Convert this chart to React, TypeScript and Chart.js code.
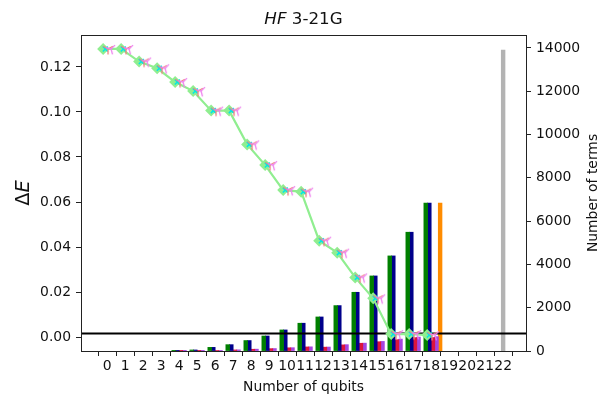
import React, { useEffect, useRef } from "react";
import { Chart, registerables } from "chart.js";

Chart.register(...registerables);

// ---- data ----
const qubits = [0, 1, 2, 3, 4, 5, 6, 7, 8, 9, 10, 11, 12, 13, 14, 15, 16, 17, 18];
const deltaE = [0.128, 0.128, 0.1224, 0.1194, 0.1133, 0.1093, 0.1006, 0.1006, 0.0856, 0.0764, 0.0653, 0.0646, 0.0428, 0.0375, 0.0265, 0.0172, 0.0013, 0.0013, 0.0009];
const termsGreen = [0, 0, 0, 0, 10, 45, 165, 290, 480, 690, 970, 1280, 1570, 2095, 2710, 3465, 4390, 5485, 6830];
const termsNavy = [0, 0, 0, 0, 10, 45, 165, 290, 480, 690, 970, 1280, 1570, 2095, 2710, 3465, 4390, 5485, 6830];
const termsRed = [0, 0, 0, 0, 3, 10, 23, 46, 78, 106, 145, 185, 175, 280, 355, 425, 520, 615, 620];
const termsPurple = [0, 0, 0, 0, 3, 11, 25, 50, 82, 110, 150, 190, 180, 290, 360, 440, 545, 640, 660];
const orangeQubit = [18.5];
const orangeTerms = [6830];
const grayQubit = [22];
const grayTerms = [13900];
const chemicalAccuracy = 0.0016;
const xTickValues = [0, 1, 2, 3, 4, 5, 6, 7, 8, 9, 10, 11, 12, 13, 14, 15, 16, 17, 18, 19, 20, 21, 22];
const leftTickValues = [0, 0.02, 0.04, 0.06, 0.08, 0.1, 0.12];
const rightTickValues = [0, 2000, 4000, 6000, 8000, 10000, 12000, 14000];

const X_MIN = -1.45;
const X_MAX = 23.27;
const Y_MIN = -0.0062;
const Y_MAX = 0.1342;
const Y2_MIN = 0;
const Y2_MAX = 14600;

const FONT = "'DejaVu Sans', sans-serif";
const TICK_FONT = { family: FONT, size: 13.9 };
const TEXT = "#111";

function triMarker(color: string, angleDeg: number): HTMLCanvasElement {
  const c = document.createElement("canvas");
  c.width = 14;
  c.height = 14;
  const g = c.getContext("2d")!;
  g.strokeStyle = color;
  g.lineWidth = 1.3;
  const cx = 7, cy = 7, r = 5.5;
  const dirs = [90, 210, 330].map((d) => ((d + angleDeg) * Math.PI) / 180);
  g.beginPath();
  for (const a of dirs) {
    g.moveTo(cx, cy);
    g.lineTo(cx + r * Math.cos(a), cy + r * Math.sin(a));
  }
  g.stroke();
  return c;
}

const decor = {
  id: "decor",
  afterDraw(chart: any) {
    const { ctx, chartArea: a } = chart;
    ctx.save();
    // spines
    ctx.strokeStyle = "#222";
    ctx.lineWidth = 1;
    ctx.strokeRect(Math.round(a.left) + 0.5, Math.round(a.top) + 0.5, Math.round(a.right - a.left), Math.round(a.bottom - a.top));
    ctx.fillStyle = TEXT;
    // title
    const cx = (a.left + a.right) / 2;
    ctx.textBaseline = "alphabetic";
    ctx.font = `italic 16.7px ${FONT}`;
    const w1 = ctx.measureText("HF").width;
    ctx.font = `16.7px ${FONT}`;
    const w2 = ctx.measureText(" 3-21G").width;
    const x0 = cx - (w1 + w2) / 2;
    ctx.font = `italic 16.7px ${FONT}`;
    ctx.textAlign = "left";
    ctx.fillText("HF", x0, 24);
    ctx.font = `16.7px ${FONT}`;
    ctx.fillText(" 3-21G", x0 + w1, 24);
    // x label
    ctx.textAlign = "center";
    ctx.font = `13.9px ${FONT}`;
    ctx.fillText("Number of qubits", cx, 391);
    // left label
    const cy = (a.top + a.bottom) / 2;
    ctx.save();
    ctx.translate(29, cy);
    ctx.rotate(-Math.PI / 2);
    ctx.font = `19.4px ${FONT}`;
    const d1 = ctx.measureText("Δ").width;
    ctx.font = `italic 19.4px ${FONT}`;
    const d2 = ctx.measureText("E").width;
    ctx.textAlign = "left";
    ctx.font = `19.4px ${FONT}`;
    ctx.fillText("Δ", -(d1 + d2) / 2, 0);
    ctx.font = `italic 19.4px ${FONT}`;
    ctx.fillText("E", -(d1 + d2) / 2 + d1, 0);
    ctx.restore();
    // right label
    ctx.save();
    ctx.translate(597, cy);
    ctx.rotate(-Math.PI / 2);
    ctx.textAlign = "center";
    ctx.font = `13.9px ${FONT}`;
    ctx.fillText("Number of terms", 0, 0);
    ctx.restore();
    ctx.restore();
  },
};

export default function App() {
  const ref = useRef<HTMLCanvasElement | null>(null);
  useEffect(() => {
    document.body.style.margin = "0";
    const canvas = ref.current!;
    const salmonTri = triMarker("#f08080", 0);
    const violetTri = triMarker("#ee82ee", -15);

    const barBase = {
      type: "bar" as const,
      yAxisID: "y2",
      xAxisID: "x",
      grouped: false,
      categoryPercentage: 1,
      barPercentage: 1,
      borderWidth: 0,
      inflateAmount: (c: any) => (c.raw && c.raw.y > 0 ? 0.4 : 0),
      order: 10,
    };

    const chart = new Chart(canvas, {
      type: "bar",
      data: {
        datasets: [
          { ...barBase, data: qubits.map((q, i) => ({ x: q - 0.3, y: termsGreen[i] })), backgroundColor: "#008000" },
          { ...barBase, data: qubits.map((q, i) => ({ x: q - 0.1, y: termsNavy[i] })), backgroundColor: "#00008b" },
          { ...barBase, data: qubits.map((q, i) => ({ x: q + 0.1, y: termsRed[i] })), backgroundColor: "#dc143c" },
          { ...barBase, data: qubits.map((q, i) => ({ x: q + 0.3, y: termsPurple[i] })), backgroundColor: "#a445e0" },
          { ...barBase, data: orangeQubit.map((q, i) => ({ x: q, y: orangeTerms[i] })), backgroundColor: "#ff8c00" },
          { ...barBase, data: grayQubit.map((q, i) => ({ x: q, y: grayTerms[i] })), backgroundColor: "#b3b3b3" },
          {
            type: "line" as const,
            yAxisID: "y",
            data: [{ x: X_MIN, y: chemicalAccuracy }, { x: X_MAX, y: chemicalAccuracy }],
            borderColor: "#000",
            borderWidth: 2,
            pointRadius: 0,
            order: 5,
          },
          {
            type: "line" as const,
            yAxisID: "y",
            data: qubits.map((q, i) => ({ x: q - 0.22, y: deltaE[i] })),
            borderColor: "#90ee90",
            borderWidth: 2.2,
            pointStyle: "rectRot",
            pointRadius: 6,
            pointBackgroundColor: "#90ee90",
            pointBorderColor: "#90ee90",
            pointBorderWidth: 0,
            order: 4,
          },
          {
            type: "line" as const,
            yAxisID: "y",
            data: qubits.map((q, i) => ({ x: q - 0.1, y: deltaE[i] })),
            showLine: false,
            pointStyle: "crossRot",
            pointRadius: 3.5,
            pointBorderColor: "#00e6e6",
            pointBorderWidth: 1.5,
            order: 3,
          },
          {
            type: "line" as const,
            yAxisID: "y",
            data: qubits.map((q, i) => ({ x: q + 0.05, y: deltaE[i] })),
            showLine: false,
            pointStyle: salmonTri,
            pointRadius: 6,
            order: 2,
          },
          {
            type: "line" as const,
            yAxisID: "y",
            data: qubits.map((q, i) => ({ x: q + 0.22, y: deltaE[i] })),
            showLine: false,
            pointStyle: violetTri,
            pointRadius: 6,
            order: 1,
          },
        ] as any,
      },
      options: {
        animation: false,
        responsive: false,
        maintainAspectRatio: false,
        layout: { padding: { top: 35, left: 0, right: 0, bottom: 0 } },
        plugins: { legend: { display: false }, tooltip: { enabled: false }, title: { display: false } },
        scales: {
          x: {
            type: "linear",
            min: X_MIN,
            max: X_MAX,
            offset: false,
            afterBuildTicks: (s: any) => {
              s.ticks = xTickValues.map((v) => ({ value: v }));
            },
            afterFit: (s: any) => {
              s.height = 45;
            },
            grid: { drawOnChartArea: false, drawTicks: true, tickLength: 5, tickColor: "#222", tickWidth: 1 },
            border: { display: false },
            ticks: { font: TICK_FONT, color: TEXT, padding: 2, maxRotation: 0, minRotation: 0, autoSkip: false, callback: (v: any) => String(v) },
          },
          y: {
            type: "linear",
            position: "left",
            min: Y_MIN,
            max: Y_MAX,
            afterBuildTicks: (s: any) => {
              s.ticks = leftTickValues.map((v) => ({ value: v }));
            },
            afterFit: (s: any) => {
              s.width = 81;
            },
            grid: { drawOnChartArea: false, drawTicks: true, tickLength: 5, tickColor: "#222", tickWidth: 1 },
            border: { display: false },
            ticks: { font: TICK_FONT, color: TEXT, padding: 5, autoSkip: false, callback: (v: any) => Number(v).toFixed(2) },
          },
          y2: {
            type: "linear",
            position: "right",
            min: Y2_MIN,
            max: Y2_MAX,
            afterBuildTicks: (s: any) => {
              s.ticks = rightTickValues.map((v) => ({ value: v }));
            },
            afterFit: (s: any) => {
              s.width = 76;
            },
            grid: { drawOnChartArea: false, drawTicks: true, tickLength: 5, tickColor: "#222", tickWidth: 1 },
            border: { display: false },
            ticks: { font: TICK_FONT, color: TEXT, padding: 5, autoSkip: false, callback: (v: any) => String(v) },
          },
        },
      } as any,
      plugins: [decor],
    });
    return () => chart.destroy();
  }, []);

  return (
    <div style={{ width: 602, height: 396 }}>
      <canvas ref={ref} width={602} height={396} style={{ display: "block", width: 602, height: 396 }} />
    </div>
  );
}
